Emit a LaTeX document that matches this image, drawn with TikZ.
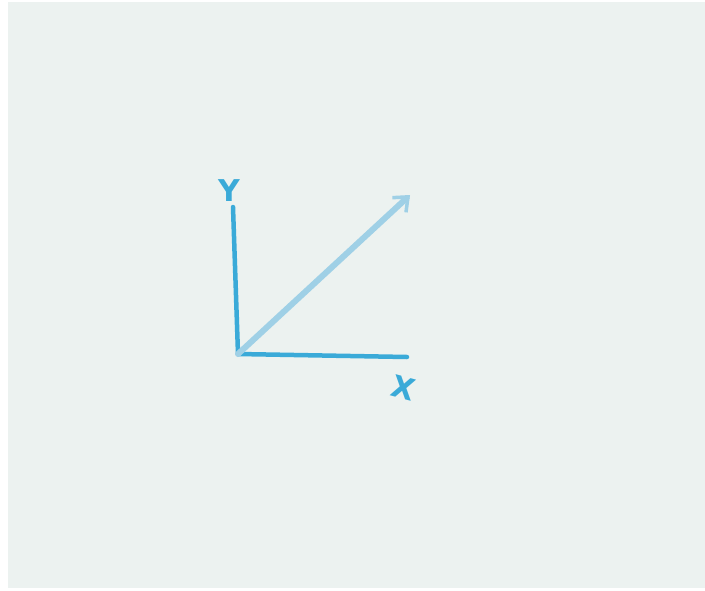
\documentclass[tikz,border=0pt]{standalone}
\usepackage{fontspec}
\setmainfont{DejaVu Sans}
\usetikzlibrary{arrows.meta}
\definecolor{paper}{HTML}{ECF2F0}
\definecolor{crayon}{HTML}{3AAAD8}
\definecolor{crayonlight}{HTML}{9FD0E6}
\tikzset{
  axisline/.style={draw=crayon, line width=4.5pt, line cap=round},
  diagline/.style={draw=crayonlight, line width=6pt, line cap=round,
    -{Straight Barb[length=12pt,width=20pt,line width=3.5pt]}},
  axislabel/.style={text=crayon, font=\bfseries\fontsize{30}{30}\selectfont, inner sep=0pt}
}
\begin{document}
\begin{tikzpicture}[x=1pt,y=-1pt]
\useasboundingbox (0,0) rectangle (705,590);
\fill[white] (0,0) rectangle (705,590);
\fill[paper] (8,2) rectangle (705,588);
\coordinate (o) at (238,354);
\coordinate (ytop) at (233,207);
\coordinate (xend) at (407,357);
\coordinate (dend) at (410,195);
\draw[axisline] (o) -- (ytop);
\draw[axisline] (o) -- (xend);
\draw[diagline] (o) -- (dend);
\node[axislabel] (ylab) at (229,191) {Y};
\node[axislabel, rotate=-15] (xlab) at (403,388) {X};
\end{tikzpicture}
\end{document}
